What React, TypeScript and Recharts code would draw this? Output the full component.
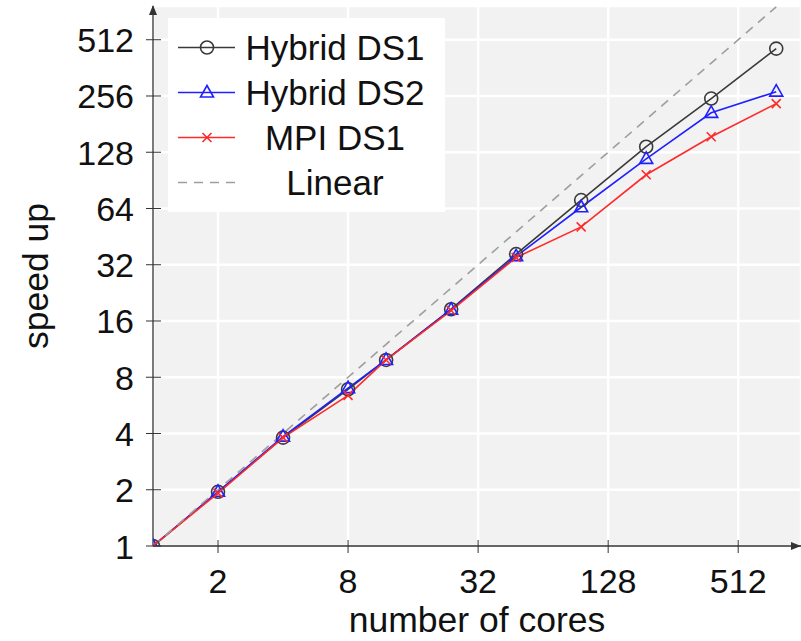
import { CartesianGrid, Legend, Line, LineChart, XAxis, YAxis } from 'recharts';

const cores = [1, 2, 4, 8, 12, 24, 48, 96, 192, 384, 768];
const hybridDS1 = [1, 1.95, 3.8, 6.9, 9.9, 18.5, 36.5, 71, 137, 248, 459];
const hybridDS2 = [1, 1.95, 3.85, 7.0, 9.9, 18.4, 35.5, 65, 118, 208, 270];
const mpiDS1 = [1, 1.92, 3.8, 6.4, 9.9, 18.2, 35, 51, 97, 155, 233];
const linear = [1, 2, 4, 8, 12, 24, 48, 96, 192, 384, 768];

const xTicks = [2, 8, 32, 128, 512];
const yTicks = [1, 2, 4, 8, 16, 32, 64, 128, 256, 512];

const rows = cores.map((c, i) => ({
  cores: c,
  ds1: hybridDS1[i],
  ds2: hybridDS2[i],
  mpi: mpiDS1[i],
  linear: linear[i],
}));

const FONT = '"Liberation Sans", Arial, Helvetica, sans-serif';
const AXIS = '#333';
const BLACK = '#3a3a3a';
const BLUE = '#2020ff';
const RED = '#ff2a2a';
const GRAY = '#9e9e9e';

type Marker = 'circle' | 'triangle' | 'cross' | 'none';

function drawMarker(kind: Marker, cx: number, cy: number, color: string, key?: number) {
  if (kind === 'circle') {
    return <circle key={key} cx={cx} cy={cy} r={6.5} fill="none" stroke={color} strokeWidth={1.6} />;
  }
  if (kind === 'triangle') {
    return (
      <path
        key={key}
        d={`M${cx},${cy - 7} L${cx + 6.5},${cy + 4.5} L${cx - 6.5},${cy + 4.5} Z`}
        fill="none"
        stroke={color}
        strokeWidth={1.6}
      />
    );
  }
  if (kind === 'cross') {
    return (
      <path
        key={key}
        d={`M${cx - 4.5},${cy - 4.5} L${cx + 4.5},${cy + 4.5} M${cx - 4.5},${cy + 4.5} L${cx + 4.5},${cy - 4.5}`}
        stroke={color}
        strokeWidth={1.6}
      />
    );
  }
  return <g key={key} />;
}

const series = [
  { key: 'ds1', name: 'Hybrid DS1', color: BLACK, marker: 'circle' as Marker, dash: undefined },
  { key: 'ds2', name: 'Hybrid DS2', color: BLUE, marker: 'triangle' as Marker, dash: undefined },
  { key: 'mpi', name: 'MPI DS1', color: RED, marker: 'cross' as Marker, dash: undefined },
  { key: 'linear', name: 'Linear', color: GRAY, marker: 'none' as Marker, dash: '9 7' },
];

function XTick({ x, y, payload }: any) {
  return (
    <g>
      <line x1={x} x2={x} y1={y - 6} y2={y + 7} stroke={AXIS} strokeWidth={1} />
      <text x={x} y={y + 46.5} textAnchor="middle" fontSize={34} fontFamily={FONT} fill="#111">
        {payload.value}
      </text>
    </g>
  );
}

function YTick({ x, y, payload }: any) {
  return (
    <g>
      <line x1={x - 7} x2={x + 8} y1={y} y2={y} stroke={AXIS} strokeWidth={1} />
      <text x={x - 19} y={y + 12.5} textAnchor="end" fontSize={34} fontFamily={FONT} fill="#111">
        {payload.value}
      </text>
    </g>
  );
}

function LegendBox() {
  return (
    <div
      style={{
        background: '#fff',
        width: 277,
        height: 194,
        paddingTop: 7,
        boxSizing: 'border-box',
        fontFamily: FONT,
      }}
    >
      {series.map((s) => (
        <div key={s.key} style={{ display: 'flex', alignItems: 'center', height: 45 }}>
          <svg width={67} height={45} style={{ display: 'block' }}>
            <line x1={10} x2={67} y1={22.5} y2={22.5} stroke={s.color} strokeWidth={1.6} strokeDasharray={s.dash} />
            {drawMarker(s.marker, 39, 22.5, s.color)}
          </svg>
          <div style={{ width: 200, textAlign: 'center', fontSize: 35, color: '#111', lineHeight: '45px' }}>
            {s.name}
          </div>
        </div>
      ))}
    </div>
  );
}

export default function App() {
  return (
    <div style={{ position: 'absolute', left: 0, top: 0, width: 801, height: 641, background: '#fff' }}>
      <LineChart width={801} height={641} data={rows} margin={{ top: 6, right: 0, bottom: 0, left: 0 }}>
        <CartesianGrid fill="#f2f2f2" stroke="#ffffff" strokeWidth={2.5} />
        <XAxis
          dataKey="cores"
          type="number"
          scale="log"
          domain={[1, 1000]}
          ticks={xTicks}
          allowDataOverflow
          height={95}
          tickSize={0}
          tickMargin={0}
          tickLine={false}
          axisLine={{ stroke: AXIS, strokeWidth: 1.3 }}
          tick={<XTick />}
          interval={0}
          label={{
            value: 'number of cores',
            position: 'insideBottom',
            offset: 9,
            fontSize: 35.5,
            fill: '#111',
            fontFamily: FONT,
          }}
        />
        <YAxis
          type="number"
          scale="log"
          domain={[1, 776]}
          ticks={yTicks}
          allowDataOverflow
          width={153}
          tickSize={0}
          tickMargin={0}
          tickLine={false}
          axisLine={{ stroke: AXIS, strokeWidth: 1.3 }}
          tick={<YTick />}
          interval={0}
          label={{
            content: () => (
              <text
                transform="translate(48,276) rotate(-90)"
                textAnchor="middle"
                fontSize={35.5}
                fontFamily={FONT}
                fill="#111"
              >
                speed up
              </text>
            ),
          }}
        />
        <Legend
          layout="vertical"
          align="center"
          verticalAlign="middle"
          content={() => <LegendBox />}
          wrapperStyle={{ position: 'absolute', left: 168, top: 18, width: 277, height: 194, margin: 0 }}
        />
        {series.map((s) => (
          <Line
            key={s.key}
            dataKey={s.key}
            name={s.name}
            type="linear"
            stroke={s.color}
            strokeWidth={1.6}
            strokeDasharray={s.dash}
            isAnimationActive={false}
            dot={
              s.marker === 'none'
                ? false
                : (p: any) => drawMarker(s.marker, p.cx, p.cy, s.color, p.index)
            }
            activeDot={false}
          />
        ))}
      </LineChart>
      <svg width={801} height={641} style={{ position: 'absolute', left: 0, top: 0, pointerEvents: 'none' }}>
        <path d="M153,5 L149,15 L157,15 Z" fill={AXIS} />
        <path d="M801,546 L791,542 L791,550 Z" fill={AXIS} />
      </svg>
    </div>
  );
}
